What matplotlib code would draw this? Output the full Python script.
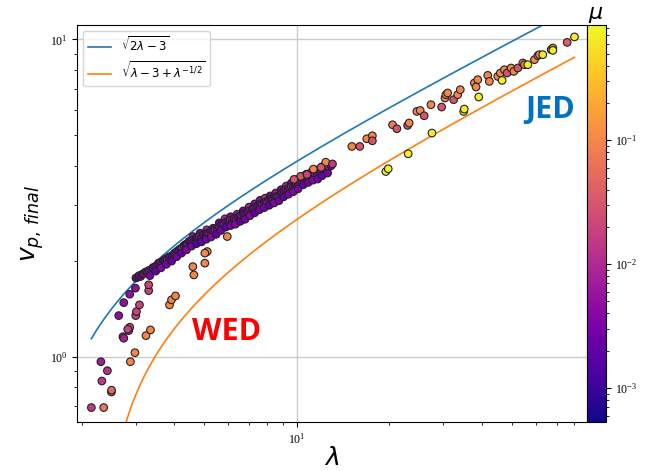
import numpy as np
import matplotlib
matplotlib.use("Agg")
import matplotlib.pyplot as plt
from matplotlib.colors import LogNorm

# main band of runs (lambda, final velocity, mu)
band_lam = [3.00, 3.04, 3.07, 3.11, 3.15, 3.19, 3.23, 3.27, 3.31, 3.36, 3.41, 3.46,
            3.50, 3.55, 3.60, 3.64, 3.69, 3.74, 3.79, 3.84, 3.89, 3.94, 3.99, 4.04,
            4.09, 4.14, 4.19, 4.24, 4.30, 4.36, 4.41, 4.47,
            4.52, 4.58, 4.64, 4.70, 4.76, 4.83, 4.90, 4.97, 5.04, 5.11, 5.18, 5.26,
            5.34, 5.42, 5.50, 5.60, 5.70, 5.80, 5.90,
            6.00, 6.08, 6.17, 6.26, 6.35, 6.44, 6.53, 6.62, 6.72, 6.82, 6.92, 7.02,
            7.12, 7.22, 7.32, 7.42,
            7.52, 7.62, 7.72, 7.83, 7.94, 8.05, 8.16, 8.27, 8.38, 8.50, 8.62, 8.74,
            8.86, 8.98,
            9.10, 9.22, 9.35, 9.48, 9.61, 9.74, 9.87, 10.00, 10.13, 10.26, 10.39, 10.50,
            10.65, 10.85, 11.05, 11.25, 11.45, 11.65, 11.85, 12.05, 12.25, 12.45, 12.70, 12.95,
            10.30, 11.33, 12.43, 9.80, 10.80, 12.00, 13.07]
band_v = [1.77, 1.78, 1.80, 1.79, 1.82, 1.83, 1.85, 1.84, 1.87, 1.88, 1.91, 1.92,
          1.93, 1.97, 1.98, 1.96, 2.01, 2.03, 2.02, 2.06, 2.07, 2.06, 2.11, 2.13,
          2.15, 2.17, 2.19, 2.20, 2.24, 2.26, 2.27, 2.31,
          2.29, 2.33, 2.31, 2.36, 2.34, 2.39, 2.37, 2.42, 2.40, 2.45, 2.43, 2.48,
          2.46, 2.52, 2.53, 2.56, 2.60, 2.62, 2.66,
          2.65, 2.69, 2.67, 2.72, 2.70, 2.75, 2.77, 2.76, 2.82, 2.80, 2.86, 2.88,
          2.87, 2.93, 2.95, 2.97,
          3.00, 3.03, 3.01, 3.06, 3.08, 3.07, 3.12, 3.14, 3.13, 3.18, 3.20, 3.19,
          3.25, 3.29,
          3.33, 3.36, 3.35, 3.41, 3.43, 3.42, 3.49, 3.51, 3.50, 3.56, 3.58, 3.61,
          3.62, 3.68, 3.66, 3.73, 3.76, 3.75, 3.82, 3.85, 3.84, 3.90, 3.95, 4.00,
          3.70, 3.90, 4.10, 3.62, 3.75, 3.95, 4.05]
band_mu = [0.004, 0.003, 0.006, 0.003, 0.003, 0.007, 0.004, 0.003, 0.005, 0.003, 0.003, 0.006,
           0.003, 0.003, 0.006, 0.004, 0.002, 0.003, 0.008, 0.003, 0.004, 0.002, 0.003, 0.006,
           0.003, 0.003, 0.004, 0.01, 0.003, 0.002, 0.005, 0.003,
           0.003, 0.006, 0.003, 0.0015, 0.003, 0.008, 0.004, 0.003, 0.0012, 0.003, 0.006, 0.003,
           0.004, 0.01, 0.003, 0.004, 0.003, 0.006, 0.003,
           0.003, 0.008, 0.003, 0.004, 0.01, 0.003, 0.004, 0.006, 0.003, 0.004, 0.003, 0.008,
           0.003, 0.004, 0.006, 0.003,
           0.004, 0.003, 0.008, 0.003, 0.003, 0.012, 0.004, 0.003, 0.006, 0.003, 0.004, 0.012,
           0.003, 0.004,
           0.004, 0.007, 0.003, 0.004, 0.012, 0.003, 0.003, 0.008, 0.004, 0.005, 0.01, 0.003,
           0.004, 0.012, 0.003, 0.005, 0.008, 0.004, 0.003, 0.01, 0.004, 0.005, 0.008, 0.004,
           0.03, 0.1, 0.1, 0.03, 0.02, 0.03, 0.015]

# upper edge of the band
band_hi_lam = [4.60, 4.85, 5.10, 5.35, 5.60, 5.85, 6.10, 6.40, 6.70, 7.00, 7.30, 7.60,
               7.90, 8.20, 8.55, 8.90, 9.25, 9.60, 9.95, 10.35, 10.75, 11.15, 11.60, 12.10]
band_hi_v = [2.39, 2.45, 2.51, 2.54, 2.64, 2.72, 2.76, 2.81, 2.88, 2.96, 3.03, 3.11,
             3.16, 3.21, 3.28, 3.36, 3.45, 3.52, 3.61, 3.69, 3.76, 3.81, 3.87, 3.97]
band_hi_mu = [0.006, 0.003, 0.008, 0.004, 0.003, 0.01, 0.004, 0.006, 0.003, 0.008, 0.004, 0.005,
              0.012, 0.003, 0.006, 0.004, 0.008, 0.003, 0.01, 0.005, 0.004, 0.012, 0.006, 0.008]

# lower edge of the band
band_lo_lam = [3.33, 3.48, 3.62, 3.77, 3.92, 4.07, 4.22, 4.38, 4.55, 4.72,
               4.90, 5.08, 5.27, 5.47, 5.67, 5.88, 6.10, 6.32, 6.55, 6.79,
               7.04, 7.30, 7.57, 7.85, 8.14, 8.44, 8.75, 9.07, 9.40, 9.75,
               10.1, 10.5, 10.9, 11.3, 11.7, 12.1, 12.6]
band_lo_v = [1.80, 1.86, 1.905, 1.955, 2.00, 2.065, 2.12, 2.17, 2.23, 2.27,
             2.30, 2.345, 2.385, 2.43, 2.50, 2.56, 2.59, 2.615, 2.67, 2.71,
             2.78, 2.84, 2.905, 2.95, 3.00, 3.05, 3.10, 3.19, 3.25, 3.31,
             3.38, 3.48, 3.54, 3.60, 3.63, 3.72, 3.79]
band_lo_mu = [0.003, 0.002, 0.004, 0.003, 0.002, 0.003, 0.002, 0.004, 0.003, 0.0015,
              0.002, 0.003, 0.004, 0.002, 0.003, 0.0015, 0.003, 0.004, 0.002, 0.003,
              0.004, 0.002, 0.003, 0.003, 0.002, 0.004, 0.003, 0.002, 0.003, 0.004,
              0.003, 0.002, 0.003, 0.004, 0.003, 0.002, 0.003]

# low-lambda runs that fall below the band
low_lam = [2.149, 2.357, 2.308, 2.423, 2.325, 2.497, 2.50, 2.722, 2.739, 2.843, 2.864,
           2.822, 2.879, 2.978, 3.235, 3.345, 2.638, 2.739, 2.864, 2.989, 2.996, 3.012,
           3.081, 3.301, 3.301, 3.858, 3.916, 4.035, 4.630, 4.595, 5.026, 5.117, 5.026,
           5.946]
low_v = [0.691, 0.691, 0.964, 0.903, 0.838, 0.774, 0.784, 1.156, 1.143, 1.208, 1.238,
         1.220, 0.964, 1.029, 1.165, 1.214, 1.347, 1.480, 1.573, 1.644, 1.347, 1.387,
         1.456, 1.615, 1.684, 1.456, 1.510, 1.554, 1.810, 1.922, 1.971, 2.144, 2.120,
         2.391]
low_mu = [0.015, 0.07, 0.007, 0.012, 0.014, 0.06, 0.05, 0.012, 0.008, 0.02, 0.02,
          0.018, 0.1, 0.1, 0.1, 0.1, 0.005, 0.005, 0.005, 0.005, 0.02, 0.02,
          0.02, 0.02, 0.02, 0.1, 0.1, 0.1, 0.1, 0.1, 0.1, 0.1, 0.1,
          0.1]

# high-lambda runs
high_lam = [15.11, 16.04, 16.90, 17.62, 17.62, 20.50, 21.17, 22.94, 23.21, 24.59, 25.21,
            25.97, 27.32, 29.60, 30.35, 30.57, 30.97, 32.39, 33.38, 34.03, 37.81, 38.79,
            38.30, 41.81, 42.31, 45.05, 45.94, 47.34, 48.31, 49.79, 50.81, 52.36, 54.36,
            55.02, 56.44, 59.29, 60.81, 61.55, 63.13, 67.21, 68.07, 68.07, 75.77, 80.03,
            19.49, 19.84, 23.04, 27.53, 34.91, 35.07, 39.08, 46.54]
high_v = [4.598, 4.598, 4.862, 4.968, 4.790, 5.382, 5.228, 5.355, 5.449, 5.929, 5.970,
          5.745, 6.223, 6.120, 6.535, 6.694, 6.776, 6.455, 6.694, 6.940, 7.287, 7.464,
          7.078, 7.700, 7.372, 7.645, 7.834, 8.024, 7.834, 8.124, 7.927, 8.124, 8.425,
          8.322, 8.322, 8.630, 8.885, 8.950, 8.950, 9.280, 9.396, 9.233, 9.784, 10.18,
          3.833, 3.909, 4.360, 5.067, 5.929, 6.031, 6.583, 7.425]
high_mu = [0.1, 0.03, 0.1, 0.1, 0.03, 0.08, 0.03, 0.03, 0.1, 0.1, 0.1,
           0.03, 0.1, 0.03, 0.1, 0.1, 0.1, 0.03, 0.1, 0.1, 0.1, 0.1,
           0.1, 0.1, 0.1, 0.1, 0.1, 0.1, 0.03, 0.1, 0.1, 0.03, 0.1,
           0.1, 0.7, 0.1, 0.1, 0.1, 0.7, 0.1, 0.1, 0.7, 0.04, 0.7,
           0.7, 0.7, 0.7, 0.7, 0.7, 0.7, 0.7, 0.7]

lam_all = np.array(band_hi_lam + band_lam + band_lo_lam + low_lam + high_lam)
v_all = np.array(band_hi_v + band_v + band_lo_v + low_v + high_v)
mu_all = np.array(band_hi_mu + band_mu + band_lo_mu + low_mu + high_mu)

W, H = 648, 471
fig = plt.figure(figsize=(W / 100, H / 100), dpi=100)
ax = fig.add_axes([77 / W, (H - 422.3) / H, (586.7 - 77) / W, (422.3 - 25) / H])
cax = fig.add_axes([586.7 / W, (H - 422.3) / H, 19 / W, (422.3 - 25) / H])

# analytic limits
lam = np.geomspace(lam_all.min(), lam_all.max(), 600)
with np.errstate(invalid="ignore"):
    jed = np.sqrt(2 * lam - 3)
    wed = np.sqrt(lam - 3 + lam ** -0.5)
ax.plot(lam, jed, color="C0", lw=1.2, label=r"$\sqrt{2\lambda-3}$")
ax.plot(lam, wed, color="C1", lw=1.2, label=r"$\sqrt{\lambda-3+\lambda^{-1/2}}$")

norm = LogNorm(vmin=5.3e-4, vmax=0.85)
sc = ax.scatter(lam_all, v_all, c=mu_all, cmap="plasma", norm=norm, s=30,
                edgecolors="#222222", linewidths=0.8, zorder=3)

ax.set_xscale("log")
ax.set_yscale("log")
ax.set_xlim(1.93, 87.7)
ax.set_ylim(0.621, 11.1)
ax.grid(True, which="major", color="#cccccc", lw=1.0)
ax.tick_params(which="both", labelsize=8.5, labelfontfamily="Liberation Serif")

ax.set_xlabel(r"$\lambda$", fontsize=18)
ax.set_ylabel(r"$v_{p,\,final}$", fontsize=18)
ax.xaxis.set_label_coords(0.5, -0.06)
ax.yaxis.set_label_coords(-0.06, 0.5)

ax.legend(loc="upper left", fontsize=8.5)

ax.text(0.294, 0.227, "WED", transform=ax.transAxes, color="#ff0000",
        fontsize=22, fontweight="bold", family="Open Sans", ha="center", va="center")
ax.text(0.929, 0.787, "JED", transform=ax.transAxes, color="#0070c0",
        fontsize=22, fontweight="bold", family="Open Sans", ha="center", va="center")

cbar = fig.colorbar(sc, cax=cax)
cbar.ax.tick_params(which="both", labelsize=8.5, labelfontfamily="Liberation Serif")
cbar.ax.set_title(r"$\mu$", fontsize=16, pad=1)

fig.savefig("out.png", dpi=100)
